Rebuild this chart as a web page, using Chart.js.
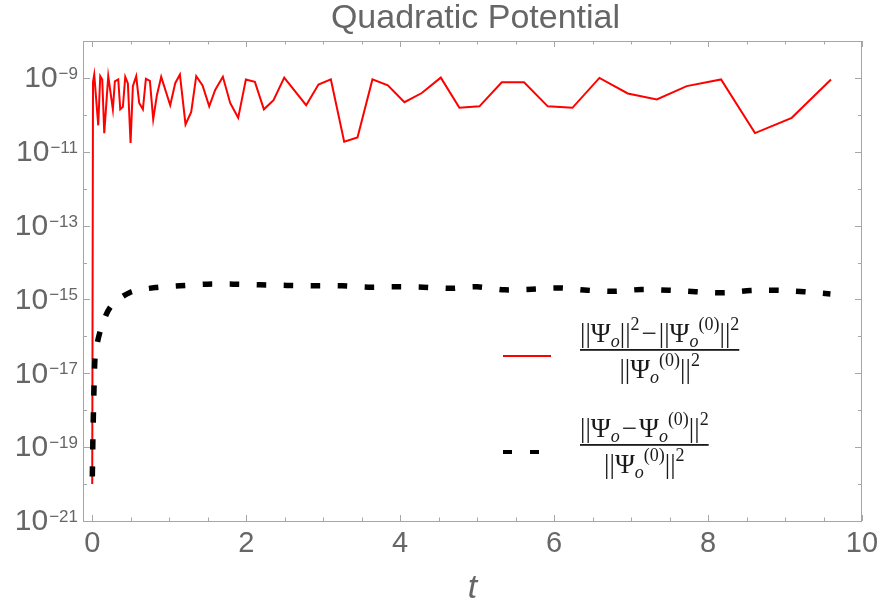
<!DOCTYPE html>
<html>
<head>
<meta charset="utf-8">
<script src="https://cdn.jsdelivr.net/npm/chart.js@4.4.0/dist/chart.umd.min.js"></script>
<style>
  html, body { margin: 0; padding: 0; background: #fff; }
</style>
</head>
<body>
<canvas id="quadChart" width="880" height="602"></canvas>
<script>
// datos
const redT = [0, 0.01, 0.026, 0.078, 0.104, 0.13, 0.156, 0.208, 0.268, 0.294, 0.338, 0.364, 0.398, 0.429, 0.463,
  0.498, 0.528, 0.571, 0.61, 0.658, 0.697, 0.749, 0.792, 0.84, 0.896, 1.013, 1.078, 1.139, 1.212, 1.286,
  1.351, 1.433, 1.52, 1.597, 1.697, 1.792, 1.896, 1.996, 2.113, 2.23, 2.355, 2.494, 2.779, 2.939, 3.1,
  3.273, 3.446, 3.64, 3.84, 4.056, 4.281, 4.528, 4.77, 5.03, 5.32, 5.61, 5.918, 6.238, 6.589, 6.957,
  7.334, 7.723, 8.169, 8.61, 9.087, 9.597];
const redV = [1e-20, 7.8e-10, 1.23e-9, 5.2e-11, 1.12e-9, 9.1e-10, 3.2e-11, 1.12e-9, 1.41e-10, 8.1e-10, 9.1e-10, 1.41e-10, 1.66e-10, 1.07e-9, 7.1e-10,
  1.74e-11, 6.0e-10, 1.12e-9, 2.1e-10, 1.41e-10, 9.5e-10, 8.3e-10, 7.6e-11, 3.4e-10, 1.07e-9, 1.82e-10, 7.2e-10, 1.23e-9, 5.5e-11, 1.2e-10,
  1.12e-9, 6.3e-10, 1.7e-10, 4.7e-10, 1.07e-9, 2.1e-10, 8.3e-11, 9.1e-10, 7.8e-10, 1.41e-10, 2.5e-10, 1.02e-9, 1.82e-10, 6.6e-10, 9.1e-10,
  1.86e-11, 2.45e-11, 9.1e-10, 6.3e-10, 2.2e-10, 3.9e-10, 1.02e-9, 1.55e-10, 1.7e-10, 7.6e-10, 7.6e-10, 1.7e-10, 1.55e-10, 1.0e-9, 3.8e-10,
  2.6e-10, 6.0e-10, 9.1e-10, 3.2e-11, 8.3e-11, 9.1e-10];

const blackT = [0.001, 0.004, 0.009, 0.017, 0.026, 0.043, 0.117, 0.243, 0.49, 0.82, 1.14, 1.49, 1.83, 2.18, 2.53,
  2.89, 3.24, 3.59, 3.95, 4.3, 4.65, 5.0, 5.36, 5.71, 6.07, 6.43, 6.78, 7.13, 7.49, 7.84, 8.2, 8.55, 8.91, 9.25, 9.59];
const blackV = [1.6e-20, 3.8e-20, 2.0e-19, 1.17e-18, 6.3e-18, 3.6e-17, 1.7e-16, 6.5e-16, 1.55e-15, 2.1e-15, 2.35e-15, 2.6e-15, 2.6e-15, 2.5e-15, 2.4e-15,
  2.35e-15, 2.35e-15, 2.15e-15, 2.2e-15, 2.15e-15, 2.0e-15, 2.2e-15, 1.82e-15, 1.9e-15, 2.05e-15, 1.78e-15, 1.66e-15, 1.86e-15, 1.78e-15, 1.62e-15,
  1.51e-15, 1.74e-15, 1.78e-15, 1.62e-15, 1.41e-15];

const xTicks = [0, 2, 4, 6, 8, 10];
const yDecades = [-21, -20, -19, -18, -17, -16, -15, -14, -13, -12, -11, -10, -9, -8];
const yLabeled = [-21, -19, -17, -15, -13, -11, -9];

const GRAY = '#666666';
const FRAME = '#a6a6a6';
const SANS = '"Liberation Sans", Arial, sans-serif';
const SERIF = '"Liberation Serif", "Times New Roman", serif';

// Dibuja una secuencia de trozos de texto (normal / sub / sup)
function runsWidth(ctx, runs) {
    let w = 0;
    runs.forEach(r => {
        ctx.font = (r.it ? 'italic ' : '') + r.size + 'px ' + SERIF;
        w += ctx.measureText(r.t).width + (r.gap || 0);
    });
    return w;
}
function drawRuns(ctx, runs, x, y) {
    runs.forEach(r => {
        ctx.font = (r.it ? 'italic ' : '') + r.size + 'px ' + SERIF;
        ctx.fillText(r.t, x, y + (r.dy || 0));
        x += ctx.measureText(r.t).width + (r.gap || 0);
    });
}
const B = 27, S = 18, SUB = 5, SUP = -12;
const num1 = [
    {t: '||\u03A8', size: B}, {t: 'o', size: S, it: true, dy: SUB}, {t: '||', size: B}, {t: '2', size: S, dy: SUP, gap: 2},
    {t: '\u2212', size: B, gap: 2}, {t: '||\u03A8', size: B}, {t: 'o', size: S, it: true, dy: SUB}, {t: '(0)', size: S, dy: SUP},
    {t: '||', size: B}, {t: '2', size: S, dy: SUP}
];
const num2 = [
    {t: '||\u03A8', size: B}, {t: 'o', size: S, it: true, dy: SUB, gap: 2}, {t: '\u2212', size: B, gap: 2}, {t: '\u03A8', size: B},
    {t: 'o', size: S, it: true, dy: SUB}, {t: '(0)', size: S, dy: SUP}, {t: '||', size: B}, {t: '2', size: S, dy: SUP}
];
const den = [
    {t: '||\u03A8', size: B}, {t: 'o', size: S, it: true, dy: SUB}, {t: '(0)', size: S, dy: SUP},
    {t: '||', size: B}, {t: '2', size: S, dy: SUP}
];
function drawFraction(ctx, num, x, barY) {
    const wn = runsWidth(ctx, num), wd = runsWidth(ctx, den);
    const w = Math.max(wn, wd);
    ctx.fillStyle = '#1a1a1a';
    ctx.textBaseline = 'alphabetic';
    ctx.textAlign = 'left';
    drawRuns(ctx, num, x + (w - wn) / 2, barY - 8);
    drawRuns(ctx, den, x + (w - wd) / 2, barY + 28);
    ctx.fillRect(x, barY - 1, w, 1.8);
}

const framePlugin = {
    id: 'framePlugin',
    beforeDatasetsDraw(chart) {
        const {ctx, chartArea: a, scales: {x, y}} = chart;
        ctx.save();
        ctx.strokeStyle = FRAME;
        ctx.lineWidth = 1;
        ctx.strokeRect(a.left + 0.5, a.top + 0.5, a.right - a.left - 1, a.bottom - a.top);
        ctx.beginPath();
        // ticks hacia dentro, eje x cada 0.5
        for (let i = 0; i <= 20; i++) {
            const v = i * 0.5;
            const px = Math.round(x.getPixelForValue(v)) + 0.5;
            const len = (v % 2 === 0) ? 6 : 3.5;
            ctx.moveTo(px, a.bottom); ctx.lineTo(px, a.bottom - len);
            ctx.moveTo(px, a.top); ctx.lineTo(px, a.top + len);
        }
        yDecades.forEach(e => {
            const py = Math.round(y.getPixelForValue(Math.pow(10, e))) + 0.5;
            const len = yLabeled.includes(e) ? 7 : 4;
            ctx.moveTo(a.left, py); ctx.lineTo(a.left + len, py);
            ctx.moveTo(a.right, py); ctx.lineTo(a.right - len, py);
        });
        ctx.stroke();
        ctx.restore();
    },
    afterDraw(chart) {
        const {ctx, chartArea: a, scales: {y}} = chart;
        ctx.save();
        // titulo
        ctx.fillStyle = GRAY;
        ctx.font = '34px ' + SANS;
        ctx.textAlign = 'center';
        ctx.textBaseline = 'middle';
        ctx.fillText('Quadratic Potential', (a.left + a.right) / 2 + 3, 19);

        // etiquetas del eje y: 10^n
        yLabeled.forEach(e => {
            const py = y.getPixelForValue(Math.pow(10, e));
            const exp = '\u2212' + Math.abs(e);
            ctx.font = '17px ' + SANS;
            const w2 = ctx.measureText(exp).width;
            ctx.font = '30px ' + SANS;
            const w1 = ctx.measureText('10').width;
            const right = a.left - 5;
            ctx.textAlign = 'left';
            ctx.textBaseline = 'middle';
            ctx.fillText('10', right - w2 - w1 - 1, py + 1);
            ctx.font = '17px ' + SANS;
            ctx.textBaseline = 'alphabetic';
            ctx.fillText(exp, right - w2, py + 1);
        });

        // leyenda
        ctx.strokeStyle = '#ff0000';
        ctx.lineWidth = 2;
        ctx.beginPath();
        ctx.moveTo(503, 356); ctx.lineTo(551, 356);
        ctx.stroke();
        ctx.fillStyle = '#000';
        ctx.fillRect(503, 450, 9, 4);
        ctx.fillRect(530, 450, 9, 4);
        drawFraction(ctx, num1, 580, 350);
        drawFraction(ctx, num2, 580, 445);
        ctx.restore();
    }
};

const ctx = document.getElementById('quadChart').getContext('2d');
new Chart(ctx, {
    type: 'line',
    data: {
        datasets: [
            {
                label: 'norm difference',
                data: redT.map((t, i) => ({x: t, y: redV[i]})),
                borderColor: '#ff0000',
                borderWidth: 2,
                pointRadius: 0,
                tension: 0,
                fill: false,
                order: 1
            },
            {
                label: 'state difference',
                data: blackT.map((t, i) => ({x: t, y: blackV[i]})),
                borderColor: '#000000',
                borderWidth: 5.5,
                borderDash: [10, 17],
                borderCapStyle: 'butt',
                pointRadius: 0,
                tension: 0.3,
                fill: false,
                order: 0
            }
        ]
    },
    options: {
        responsive: false,
        animation: false,
        devicePixelRatio: 1,
        layout: { padding: { top: 41, right: 18, left: 0, bottom: 0 } },
        plugins: {
            legend: { display: false },
            title: { display: false },
            tooltip: { enabled: false }
        },
        scales: {
            x: {
                type: 'linear',
                min: -0.12,
                max: 10,
                afterBuildTicks: s => { s.ticks = xTicks.map(v => ({value: v})); },
                afterFit: s => { s.height = 81; s.paddingLeft = 0; s.paddingRight = 0; },
                grid: { display: false, drawTicks: false },
                border: { display: false },
                ticks: {
                    color: GRAY,
                    font: { size: 29, family: SANS },
                    padding: 6,
                    autoSkip: false,
                    maxRotation: 0
                },
                title: {
                    display: true,
                    text: 't',
                    color: GRAY,
                    font: { size: 34, style: 'italic', family: SANS, lineHeight: 0.8 },
                    padding: { top: 0, bottom: 0 }
                }
            },
            y: {
                type: 'logarithmic',
                min: 1e-21,
                max: 1e-8,
                afterFit: s => { s.width = 83; },
                grid: { display: false, drawTicks: false },
                border: { display: false },
                ticks: { display: false }
            }
        }
    },
    plugins: [framePlugin]
});
</script>
</body>
</html>
